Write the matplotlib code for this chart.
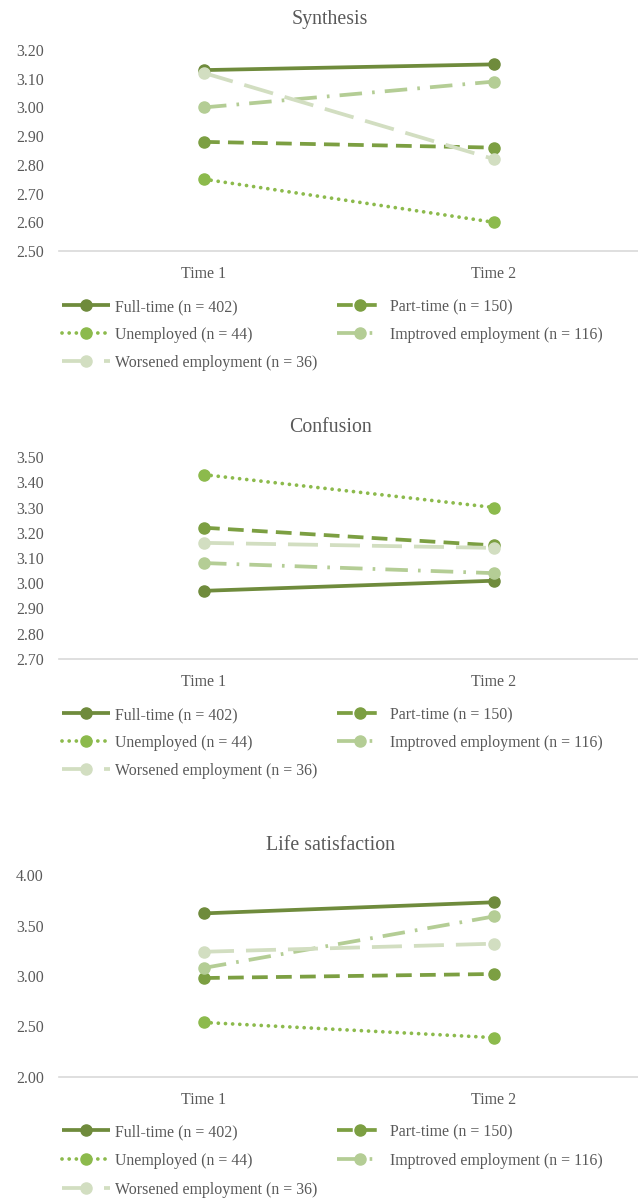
import matplotlib.pyplot as plt
from matplotlib.lines import Line2D

plt.rcParams['font.family'] = ['Liberation Serif', 'DejaVu Serif']

times = ['Time 1', 'Time 2']
groups = ['Full-time (n = 402)', 'Part-time (n = 150)', 'Unemployed (n = 44)',
          'Imptroved employment (n = 116)', 'Worsened employment (n = 36)']

synthesis = [[3.13, 3.15], [2.88, 2.86], [2.75, 2.60], [3.00, 3.09], [3.12, 2.82]]
confusion = [[2.97, 3.01], [3.22, 3.15], [3.43, 3.30], [3.08, 3.04], [3.16, 3.14]]
life_sat = [[3.62, 3.73], [2.98, 3.02], [2.54, 2.39], [3.08, 3.59], [3.24, 3.32]]

colors = ['#6f8b3c', '#7c9f42', '#8cba4c', '#b4cd95', '#d2dec1']
dashes = [None, (4.2, 2.2), (0.01, 1.9), (6, 2.7, 0.7, 2.7), (8, 3.2)]
caps = ['butt', 'butt', 'round', 'butt', 'butt']
LW, MS = 2.7, 8

W, H = 638, 1198
fig = plt.figure(figsize=(W / 100, H / 100), dpi=100)

# (title, data, ylim, yticks, title y, axis top px, axis bottom px, legend row y's)
panels = [
    ('Synthesis', synthesis, (2.5, 3.2), [2.5 + 0.1 * i for i in range(8)], 17, 50, 251, [305, 333, 361]),
    ('Confusion', confusion, (2.7, 3.5), [2.7 + 0.1 * i for i in range(9)], 425, 457, 659, [713, 741, 769]),
    ('Life satisfaction', life_sat, (2.0, 4.0), [2.0, 2.5, 3.0, 3.5, 4.0], 843, 875, 1077, [1130, 1159, 1188]),
]

# legend slots: (row, column) for each group, row-wise like the original
slots = [(0, 0), (0, 1), (1, 0), (1, 1), (2, 0)]
col_x = [(62, 110, 115), (337, 382, 390)]  # handle start, handle end, text x

txt = '#595959'


def fx(px):
    return px / W


def fy(py):
    return 1 - py / H


for title, data, ylim, yticks, ty, top, bot, rows in panels:
    left, right = 59, 639
    ax = fig.add_axes([left / W, 1 - bot / H, (right - left) / W, (bot - top) / H])
    for i, vals in enumerate(data):
        ln, = ax.plot([0, 1], vals, color=colors[i], lw=LW, marker='o', ms=MS,
                      dash_capstyle=caps[i], solid_capstyle='butt')
        if dashes[i] is not None:
            ln.set_dashes(dashes[i])
    ax.set_xlim(-0.5, 1.5)
    ax.set_ylim(*ylim)
    ax.set_yticks(yticks)
    ax.set_yticklabels(['%.2f' % v for v in yticks])
    ax.set_xticks([0, 1])
    ax.set_xticklabels(times)
    ax.tick_params(length=0, labelsize=11.4, colors=txt)
    ax.tick_params(axis='y', pad=11)
    ax.tick_params(axis='x', pad=11)
    for s in ['top', 'right', 'left']:
        ax.spines[s].set_visible(False)
    ax.spines['bottom'].set_color('#d9d9d9')
    ax.spines['bottom'].set_linewidth(1.2)
    fig.text(fx(330), fy(ty), title, ha='center', va='center_baseline',
             fontsize=14.3, color=txt)

    # hand-made legend
    for i, (r, c) in enumerate(slots):
        x0, x1, xt = col_x[c]
        yy = fy(rows[r])
        hl = Line2D([fx(x0), fx(x1)], [yy, yy], transform=fig.transFigure,
                    color=colors[i], lw=LW, dash_capstyle=caps[i], solid_capstyle='butt')
        if dashes[i] is not None:
            hl.set_dashes(dashes[i])
        fig.add_artist(hl)
        mk = Line2D([fx(0.5 * (x0 + x1))], [yy], transform=fig.transFigure,
                    color=colors[i], marker='o', ms=MS, lw=0)
        fig.add_artist(mk)
        fig.text(fx(xt), yy, groups[i], ha='left', va='center_baseline',
                 fontsize=11.4, color=txt)

fig.savefig('out.png', dpi=100, facecolor='white')
